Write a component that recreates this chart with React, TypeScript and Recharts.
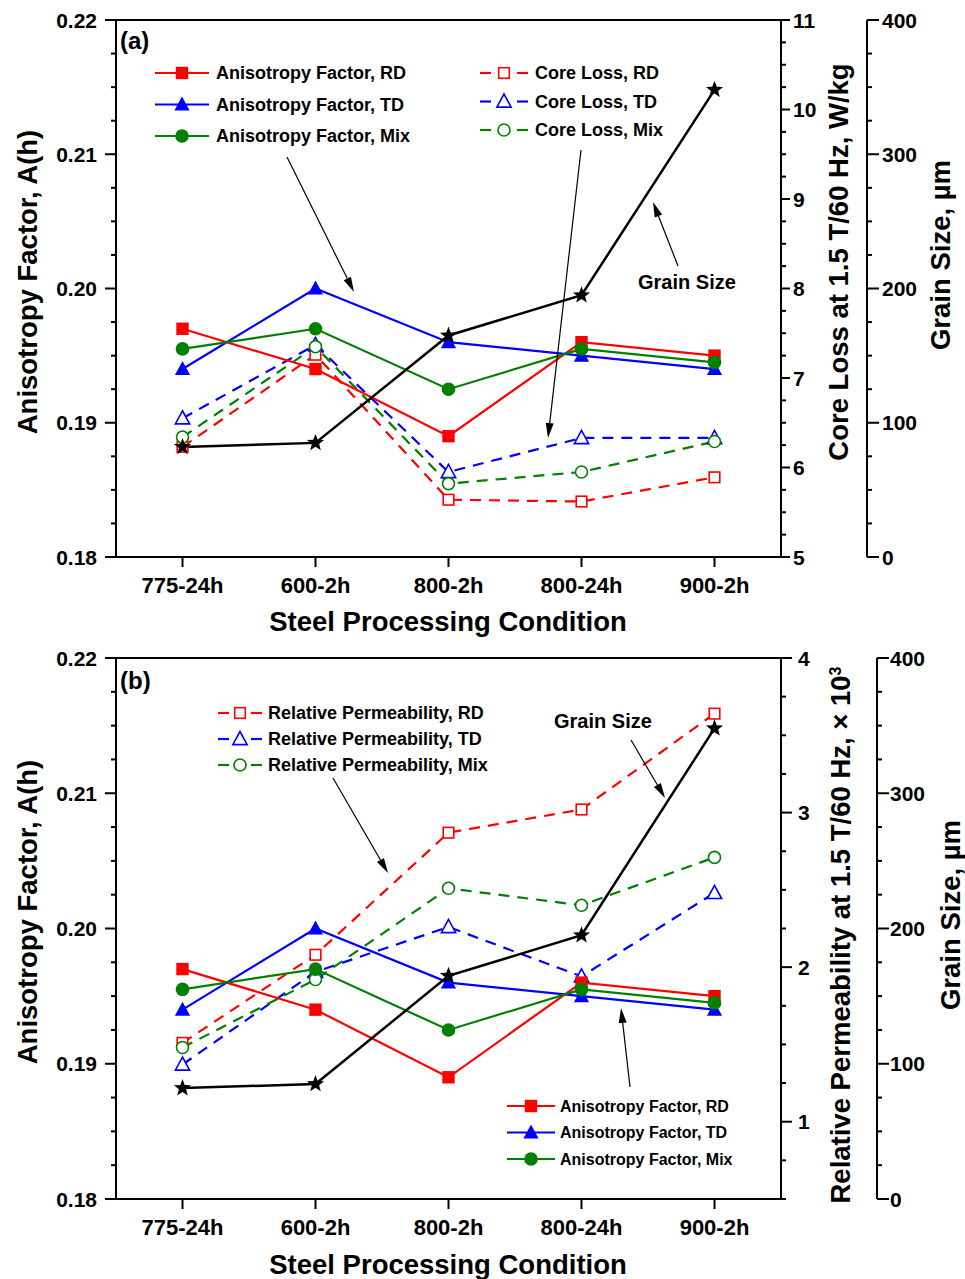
import React from "react";
import { ComposedChart, Line, XAxis, YAxis, ReferenceLine } from "recharts";

const W = 965;
const FONT = "'Liberation Sans', Arial, Helvetica, sans-serif";
const RED = "#ff0000";
const BLUE = "#0000ff";
const GREEN = "#008000";

// processing conditions (x categories)
const conditions = ["775-24h", "600-2h", "800-2h", "800-24h", "900-2h"];

// anisotropy factor A(h)
const anisoRD = [0.197, 0.194, 0.189, 0.196, 0.195];
const anisoTD = [0.194, 0.2, 0.196, 0.195, 0.194];
const anisoMix = [0.1955, 0.197, 0.1925, 0.1955, 0.1945];

// core loss at 1.5 T / 60 Hz, W/kg
const coreLossRD = [6.23, 7.26, 5.64, 5.62, 5.89];
const coreLossTD = [6.55, 7.37, 5.95, 6.33, 6.33];
const coreLossMix = [6.34, 7.35, 5.82, 5.95, 6.29];

// relative permeability, x 10^3
const permRD = [1.51, 2.08, 2.87, 3.02, 3.64];
const permTD = [1.37, 1.97, 2.26, 1.94, 2.48];
const permMix = [1.48, 1.92, 2.51, 2.4, 2.71];

// grain size, um
const grainSize = [82, 85, 165, 195, 348];

// axis ticks
const anisoMajor = [0.18, 0.19, 0.2, 0.21, 0.22];
const lossMajor = [5, 6, 7, 8, 9, 10, 11];
const permMajor = [1, 2, 3, 4];
const grainMajor = [0, 100, 200, 300, 400];

const tickRange = (lo: number, hi: number, step: number) => {
  const n = Math.round((hi - lo) / step);
  return Array.from({ length: n + 1 }, (_, k) => +(lo + k * step).toFixed(6));
};

const rows = conditions.map((c, i) => ({
  idx: i,
  cond: c,
  anisoRD: anisoRD[i],
  anisoTD: anisoTD[i],
  anisoMix: anisoMix[i],
  lossRD: coreLossRD[i],
  lossTD: coreLossTD[i],
  lossMix: coreLossMix[i],
  permRD: permRD[i],
  permTD: permTD[i],
  permMix: permMix[i],
  grain: grainSize[i],
}));

type Shape = "square" | "triangle" | "circle" | "star";
type Series = { key: string; name: string; color: string; shape: Shape };

const anisoSeries: Series[] = [
  { key: "anisoRD", name: "Anisotropy Factor, RD", color: RED, shape: "square" },
  { key: "anisoTD", name: "Anisotropy Factor, TD", color: BLUE, shape: "triangle" },
  { key: "anisoMix", name: "Anisotropy Factor, Mix", color: GREEN, shape: "circle" },
];
const lossSeries: Series[] = [
  { key: "lossRD", name: "Core Loss, RD", color: RED, shape: "square" },
  { key: "lossTD", name: "Core Loss, TD", color: BLUE, shape: "triangle" },
  { key: "lossMix", name: "Core Loss, Mix", color: GREEN, shape: "circle" },
];
const permSeries: Series[] = [
  { key: "permRD", name: "Relative Permeability, RD", color: RED, shape: "square" },
  { key: "permTD", name: "Relative Permeability, TD", color: BLUE, shape: "triangle" },
  { key: "permMix", name: "Relative Permeability, Mix", color: GREEN, shape: "circle" },
];

function Marker({ shape, cx, cy, color, open }: { shape: Shape; cx: number; cy: number; color: string; open?: boolean }) {
  const fill = open ? "#fff" : color;
  const sw = open ? 1.6 : 0;
  if (shape === "square") {
    const s = open ? 5.3 : 6.2;
    return <rect x={cx - s} y={cy - s} width={2 * s} height={2 * s} fill={fill} stroke={color} strokeWidth={sw} />;
  }
  if (shape === "triangle") {
    const h = open ? 7.5 : 8;
    return (
      <polygon
        points={`${cx},${cy - h} ${cx - h * 0.95},${cy + h * 0.75} ${cx + h * 0.95},${cy + h * 0.75}`}
        fill={fill}
        stroke={color}
        strokeWidth={sw}
      />
    );
  }
  if (shape === "circle") {
    return <circle cx={cx} cy={cy} r={open ? 6 : 6.8} fill={fill} stroke={color} strokeWidth={sw} />;
  }
  const pts: string[] = [];
  for (let k = 0; k < 10; k++) {
    const r = k % 2 === 0 ? 9 : 3.8;
    const a = -Math.PI / 2 + (k * Math.PI) / 5;
    pts.push(`${cx + r * Math.cos(a)},${cy + r * Math.sin(a)}`);
  }
  return <polygon points={pts.join(" ")} fill="#000" />;
}

const txt = { fontFamily: FONT, fontWeight: 700, fill: "#000" } as const;

function makeYTick(side: "left" | "right", majors: number[], fmt: (v: number) => string, majorLen: number, gap: number) {
  return (props: any) => {
    const { x, y, payload } = props;
    const v = payload.value;
    const isMajor = majors.some((m) => Math.abs(m - v) < 1e-6);
    const dir = side === "left" ? -1 : 1;
    const len = isMajor ? majorLen : 5;
    return (
      <g>
        <line x1={x} y1={y} x2={x + dir * len} y2={y} stroke="#000" strokeWidth={2} />
        {isMajor && (
          <text x={x + dir * gap} y={y} dy="0.36em" textAnchor={side === "left" ? "end" : "start"} fontSize={21} {...txt}>
            {fmt(v)}
          </text>
        )}
      </g>
    );
  };
}

const xTick = (props: any) => {
  const { x, y, payload } = props;
  return (
    <g>
      <line x1={x} y1={y} x2={x} y2={y + 10} stroke="#000" strokeWidth={2} />
      <text x={x} y={y + 36} textAnchor="middle" fontSize={22} {...txt}>
        {conditions[payload.value]}
      </text>
    </g>
  );
};

function Arrow({ x1, y1, x2, y2 }: { x1: number; y1: number; x2: number; y2: number }) {
  const a = Math.atan2(y2 - y1, x2 - x1);
  const L = 15;
  const w = 4;
  const bx = x2 - L * Math.cos(a);
  const by = y2 - L * Math.sin(a);
  const px = -Math.sin(a) * w;
  const py = Math.cos(a) * w;
  return (
    <g>
      <line x1={x1} y1={y1} x2={bx} y2={by} stroke="#000" strokeWidth={1.2} />
      <polygon points={`${x2},${y2} ${bx + px},${by + py} ${bx - px},${by - py}`} fill="#000" />
    </g>
  );
}

function LegendRow({ s, x, y, textX, open, dashed, size, half }: { s: Series; x: number; y: number; textX: number; open?: boolean; dashed?: boolean; size: number; half: number }) {
  return (
    <g>
      {dashed ? (
        <>
          <line x1={x - half} y1={y} x2={x - half + 11} y2={y} stroke={s.color} strokeWidth={2.2} />
          <line x1={x + half - 11} y1={y} x2={x + half} y2={y} stroke={s.color} strokeWidth={2.2} />
        </>
      ) : (
        <line x1={x - half} y1={y} x2={x + half} y2={y} stroke={s.color} strokeWidth={2.2} />
      )}
      <Marker shape={s.shape} cx={x} cy={y} color={s.color} open={open} />
      <text x={textX} y={y} dy="0.36em" fontSize={size} {...txt}>
        {s.name}
      </text>
    </g>
  );
}

const dotFor = (s: Series | { shape: Shape; color: string }, open: boolean) => (p: any) => (
  <Marker key={p.index} shape={s.shape} cx={p.cx} cy={p.cy} color={s.color} open={open} />
);

type SecAxis = {
  domain: [number, number];
  majors: number[];
  ticks: number[];
  width: number;
  majorLen: number;
  gap: number;
};

// right axes: "r1" sits against the plot, "r2" (grain size) outside it
function Panel({
  height,
  top,
  xHeight,
  sec,
  grainWidth,
  grainGap,
  secSeries,
  children,
}: {
  height: number;
  top: number;
  xHeight: number;
  sec: SecAxis;
  grainWidth: number;
  grainGap: number;
  secSeries: Series[];
  children: React.ReactNode;
}) {
  const axisLine = { stroke: "#000", strokeWidth: 2 };
  return (
    <div style={{ position: "relative", width: W, height }}>
      <ComposedChart width={W} height={height} data={rows} margin={{ top, right: 0, bottom: 0, left: 0 }}>
        <XAxis
          type="number"
          dataKey="idx"
          domain={[-0.5, 4.5]}
          ticks={[0, 1, 2, 3, 4]}
          interval={0}
          height={xHeight}
          tickSize={0}
          tickMargin={0}
          tickLine={false}
          axisLine={axisLine}
          tick={xTick}
        />
        <YAxis
          yAxisId="l1"
          orientation="left"
          type="number"
          width={116}
          domain={[0.18, 0.22]}
          ticks={tickRange(0.18, 0.22, 0.0025)}
          interval={0}
          tickSize={0}
          tickMargin={0}
          tickLine={false}
          axisLine={axisLine}
          tick={makeYTick("left", anisoMajor, (v) => v.toFixed(2), 11, 19)}
        />
        <YAxis
          yAxisId="r1"
          orientation="right"
          type="number"
          width={sec.width}
          domain={sec.domain}
          ticks={sec.ticks}
          interval={0}
          tickSize={0}
          tickMargin={0}
          tickLine={false}
          axisLine={axisLine}
          tick={makeYTick("right", sec.majors, (v) => String(v), sec.majorLen, sec.gap)}
        />
        <YAxis
          yAxisId="r2"
          orientation="right"
          type="number"
          width={grainWidth}
          domain={[0, 400]}
          ticks={tickRange(0, 400, 25)}
          interval={0}
          tickSize={0}
          tickMargin={0}
          tickLine={false}
          axisLine={axisLine}
          tick={makeYTick("right", grainMajor, (v) => String(v), 12, grainGap)}
        />
        <ReferenceLine yAxisId="l1" y={0.22} stroke="#000" strokeWidth={2} />
        {secSeries.map((s) => (
          <Line
            key={s.key}
            yAxisId="r1"
            dataKey={s.key}
            type="linear"
            stroke={s.color}
            strokeWidth={2.2}
            strokeDasharray="11 8"
            dot={dotFor(s, true)}
            activeDot={false}
            isAnimationActive={false}
          />
        ))}
        {anisoSeries.map((s) => (
          <Line
            key={s.key}
            yAxisId="l1"
            dataKey={s.key}
            type="linear"
            stroke={s.color}
            strokeWidth={2.2}
            dot={dotFor(s, false)}
            activeDot={false}
            isAnimationActive={false}
          />
        ))}
        <Line
          yAxisId="r2"
          dataKey="grain"
          type="linear"
          stroke="#000"
          strokeWidth={2.5}
          dot={dotFor({ shape: "star", color: "#000" }, false)}
          activeDot={false}
          isAnimationActive={false}
        />
      </ComposedChart>
      <svg width={W} height={height} style={{ position: "absolute", left: 0, top: 0, pointerEvents: "none" }}>
        {children}
      </svg>
    </div>
  );
}

const vTitle = (x: number, y: number, content: React.ReactNode) => (
  <text x={x} y={y} dy="0.36em" textAnchor="middle" fontSize={27.5} transform={`rotate(-90 ${x} ${y})`} {...txt}>
    {content}
  </text>
);

export default function App() {
  return (
    <div style={{ position: "absolute", left: 0, top: 0, width: W, height: 1279, background: "#fff" }}>
      <Panel
        height={640}
        top={20}
        xHeight={83}
        sec={{ domain: [5, 11], majors: lossMajor, ticks: tickRange(5, 11, 0.25), width: 86, majorLen: 9, gap: 12 }}
        grainWidth={98}
        grainGap={15}
        secSeries={lossSeries}
      >
        <text x={120} y={40} dy="0.36em" fontSize={24} {...txt}>(a)</text>
        {anisoSeries.map((s, i) => (
          <LegendRow key={s.key} s={s} x={182} y={73 + i * 31.5} textX={216} size={18} half={27} />
        ))}
        {lossSeries.map((s, i) => (
          <LegendRow key={s.key} s={s} x={504} y={73 + i * 28.5} textX={535} size={18} half={24} open dashed />
        ))}
        <Arrow x1={287} y1={157} x2={354} y2={292} />
        <Arrow x1={581} y1={150} x2={548} y2={438} />
        <Arrow x1={678} y1={266} x2={653} y2={202} />
        <text x={638} y={282} dy="0.36em" fontSize={20} {...txt}>Grain Size</text>
        {vTitle(27, 282, "Anisotropy Factor, A(h)")}
        {vTitle(838, 262, "Core Loss at 1.5 T/60 Hz, W/kg")}
        {vTitle(940, 255, "Grain Size, \u00b5m")}
        <text x={448} y={621} dy="0.36em" textAnchor="middle" fontSize={27.5} {...txt}>Steel Processing Condition</text>
      </Panel>
      <Panel
        height={639}
        top={18}
        xHeight={80}
        sec={{ domain: [0.5, 4], majors: permMajor, ticks: tickRange(0.5, 4, 0.25), width: 96, majorLen: 11, gap: 17 }}
        grainWidth={88}
        grainGap={13}
        secSeries={permSeries}
      >
        <text x={120} y={40} dy="0.36em" fontSize={24} {...txt}>(b)</text>
        {permSeries.map((s, i) => (
          <LegendRow key={s.key} s={s} x={240} y={73 + i * 26} textX={268} size={18} half={22} open dashed />
        ))}
        {anisoSeries.map((s, i) => (
          <LegendRow key={s.key} s={s} x={531} y={466 + i * 26.5} textX={560} size={16} half={24} />
        ))}
        <Arrow x1={333} y1={138} x2={388} y2={233} />
        <Arrow x1={631} y1={100} x2={665} y2={158} />
        <Arrow x1={630} y1={447} x2={621} y2={368} />
        <text x={554} y={81} dy="0.36em" fontSize={20} {...txt}>Grain Size</text>
        {vTitle(27, 272, "Anisotropy Factor, A(h)")}
        {vTitle(840, 295, (
          <>
            Relative Permeability at 1.5 T/60 Hz, {"\u00d7"} 10
            <tspan dy="-0.55em" fontSize={16}>3</tspan>
          </>
        ))}
        {vTitle(950, 275, "Grain Size, \u00b5m")}
        <text x={448} y={624} dy="0.36em" textAnchor="middle" fontSize={27.5} {...txt}>Steel Processing Condition</text>
      </Panel>
    </div>
  );
}
